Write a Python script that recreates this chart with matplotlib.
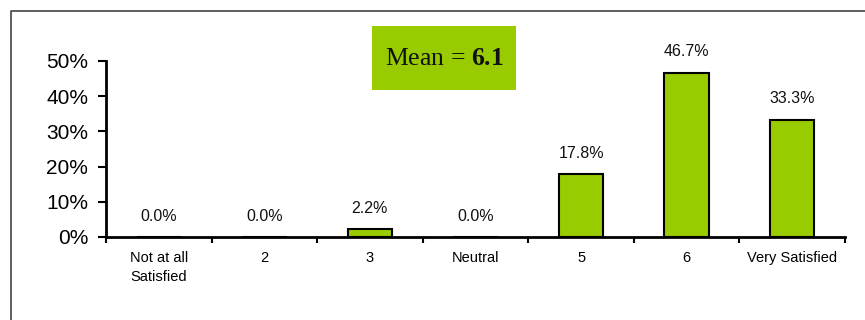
import matplotlib.pyplot as plt
from matplotlib.patches import Rectangle
from matplotlib.lines import Line2D

categories = ['Not at all\nSatisfied', '2', '3', 'Neutral', '5', '6', 'Very Satisfied']
values = [0.0, 0.0, 2.2, 0.0, 17.8, 46.7, 33.3]
y_ticks = [0, 10, 20, 30, 40, 50]
mean_value = 6.1

plt.rcParams['font.family'] = 'Liberation Sans'
plt.rcParams['mathtext.fontset'] = 'custom'
plt.rcParams['mathtext.rm'] = 'Liberation Serif'
plt.rcParams['mathtext.bf'] = 'Liberation Serif:bold'

fig = plt.figure(figsize=(8.65, 3.2), dpi=100)
ax = fig.add_axes([106 / 865, 83 / 320, 739 / 865, 176 / 320])

x = list(range(len(categories)))
ax.bar(x, values, width=0.42, color='#99CC00', edgecolor='black', linewidth=1.5, zorder=2)
for xi, v in zip(x, values):
    ax.annotate(f'{v:.1f}%', (xi, v), xytext=(0, 15), textcoords='offset points',
                ha='center', va='center', fontsize=11.5, color='#111111', annotation_clip=False)

ax.set_xlim(-0.5, len(categories) - 0.5)
ax.set_ylim(0, 50)
ax.set_yticks(y_ticks)
ax.set_yticklabels([f'{t}%' for t in y_ticks], fontsize=15)
ax.set_xticks(x)
ax.set_xticklabels(categories, fontsize=10.5, linespacing=1.45)
ax.set_xticks([i - 0.5 for i in range(len(categories) + 1)], minor=True)
ax.tick_params(axis='x', which='major', length=0, pad=10)
ax.tick_params(axis='x', which='minor', length=4, width=1.5, direction='out')
ax.tick_params(axis='y', length=5.8, width=1.5, pad=7, direction='out')

for side in ['top', 'right']:
    ax.spines[side].set_visible(False)
for side in ['left', 'bottom']:
    ax.spines[side].set_linewidth(2)
    ax.spines[side].set_color('black')
    ax.spines[side].set_zorder(4)

# outer frame (top and left only visible)
fig.add_artist(Line2D([11 / 865, 11 / 865, 1.0], [0.0, 1 - 11 / 320, 1 - 11 / 320],
                      color='#444444', linewidth=1.2, transform=fig.transFigure))

# mean box
fig.add_artist(Rectangle((372 / 865, 230 / 320), 144 / 865, 64 / 320,
                         facecolor='#99CC00', edgecolor='none', transform=fig.transFigure))
fig.text(444 / 865, 1 - 59 / 320, r'Mean = $\mathbf{' + f'{mean_value}' + '}$',
         family='Liberation Serif', fontsize=18.5, ha='center', va='center', color='#111111')

fig.savefig('out.png', dpi=100)
